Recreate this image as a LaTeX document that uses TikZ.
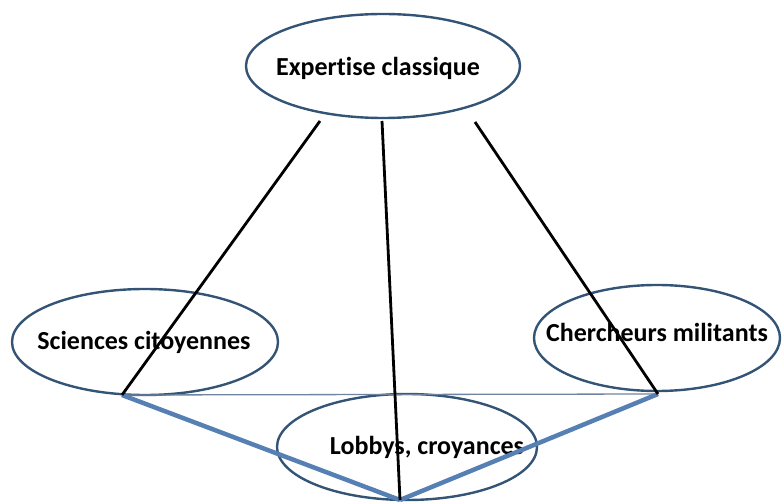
\documentclass[tikz,border=0pt]{standalone}
\usepackage{fontspec}
\setmainfont{Carlito}[Ligatures={NoCommon}]
\usetikzlibrary{shapes.geometric}
\definecolor{ellcol}{RGB}{52,84,118}
\definecolor{thickblue}{RGB}{86,128,180}
\definecolor{thinblue}{RGB}{110,132,160}
\tikzset{
  ell/.style={ellipse, draw=ellcol, line width=2.4pt, inner sep=0pt},
  txt/.style={font=\fontsize{26}{30}\selectfont\bfseries, text=black, inner sep=0pt},
  blackline/.style={draw=black, line width=2.8pt},
  thickline/.style={draw=thickblue, line width=4.5pt},
  thinline/.style={draw=thinblue, line width=1.3pt}
}
\begin{document}
\begin{tikzpicture}[x=1pt,y=-1pt]
\useasboundingbox (0,0) rectangle (782,502);
\node[ell, minimum width=274pt, minimum height=104pt] (exp) at (383,66) {};
\node[ell, minimum width=266pt, minimum height=106pt] (sci) at (145,342) {};
\node[ell, minimum width=246pt, minimum height=106pt] (che) at (657,338) {};
\node[ell, minimum width=260pt, minimum height=106pt] (lob) at (407,447) {};
\node[txt] (expt) at (378,68) {Expertise classique};
\node[txt] (scit) at (144,342) {Sciences citoyennes};
\node[txt] (chet) at (657,332) {Chercheurs militants};
\node[txt] (lobt) at (427,447) {Lobbys, croyances};
\coordinate (e1) at (320,121);
\coordinate (e2) at (382,121);
\coordinate (e3) at (475,122);
\coordinate (jl) at (122,395);
\coordinate (jr) at (658,394);
\coordinate (jb) at (400,500);
\draw[thinline] (jl) -- (jr);
\draw[thickline] (jl) -- (jb);
\draw[thickline] (jr) -- (jb);
\draw[blackline] (e1) -- (jl);
\draw[blackline] (e2) -- (jb);
\draw[blackline] (e3) -- (jr);
\end{tikzpicture}
\end{document}
